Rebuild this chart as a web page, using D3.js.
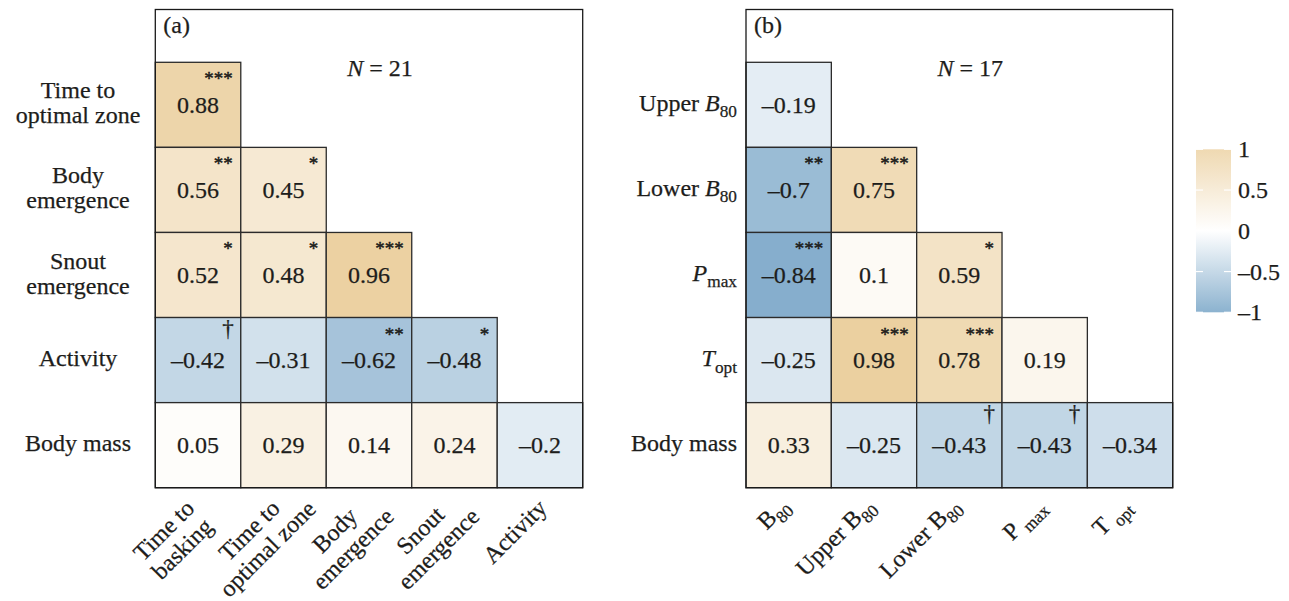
<!DOCTYPE html>
<html>
<head>
<meta charset="utf-8">
<script src="https://cdn.jsdelivr.net/npm/d3@7"></script>
<style>
  body { margin: 0; background: #fff; }
  svg text { font-family: "Liberation Serif", "Times New Roman", serif; fill: #1d1d1b;
             stroke: #1d1d1b; stroke-width: 0.25px; white-space: pre; }
</style>
</head>
<body>
<svg id="chart" width="1289" height="601"></svg>
<script>
// ---- Panel (a): behavioural traits, N = 21 ----
const rowsA = ["Time to\noptimal zone", "Body\nemergence", "Snout\nemergence", "Activity", "Body mass"];
const colsA = ["Time to\nbasking", "Time to\noptimal zone", "Body\nemergence", "Snout\nemergence", "Activity"];
const valuesA = [
  [0.88],
  [0.56, 0.45],
  [0.52, 0.48, 0.96],
  [-0.42, -0.31, -0.62, -0.48],
  [0.05, 0.29, 0.14, 0.24, -0.2]
];
const signifA = [
  ["***"],
  ["**", "*"],
  ["*", "*", "***"],
  ["\u2020", "", "**", "*"],
  ["", "", "", "", ""]
];

// ---- Panel (b): thermal performance traits, N = 17 ----
// *x* = italic, _{x} = subscript
const rowsB = ["Upper *B*_{80}", "Lower *B*_{80}", "*P*_{max}", "*T*_{opt}", "Body mass"];
const colsB = ["B_{80}", "Upper B_{80}", "Lower B_{80}", "P _{max}", "T _{opt}"];
const valuesB = [
  [-0.19],
  [-0.7, 0.75],
  [-0.84, 0.1, 0.59],
  [-0.25, 0.98, 0.78, 0.19],
  [0.33, -0.25, -0.43, -0.43, -0.34]
];
const signifB = [
  [""],
  ["**", "***"],
  ["***", "", "*"],
  ["", "***", "***", ""],
  ["", "", "\u2020", "\u2020", ""]
];

const legendTicks = [-1, -0.5, 0, 0.5, 1];

const FS = 24;
const svg = d3.select("#chart");
const color = d3.scaleLinear().domain([-1, 0, 1]).range(["#6f9fc3", "#ffffff", "#ebcf9e"]);
const fmt = v => (v < 0 ? "\u2013" : "") + String(Math.abs(v));

const frameTop = 9.5, gridTop = 62.3, gridBottom = 487.7;

// write a label with italic / subscript runs into a <text>
function addRich(textSel, str, fs) {
  const parts = str.split(/(\*[^*]+\*|_\{[^}]+\})/).filter(s => s.length);
  let shift = 0;
  parts.forEach(p => {
    const t = textSel.append("tspan");
    if (p.startsWith("_{")) {
      const d = fs * 0.27;
      t.text(p.slice(2, -1)).attr("font-size", fs * 0.72).attr("dy", d);
      shift = d;
    } else {
      if (p.startsWith("*")) t.text(p.slice(1, -1)).attr("font-style", "italic");
      else t.text(p);
      if (shift) { t.attr("dy", -shift); shift = 0; }
    }
  });
}

function drawPanel(cfg) {
  const g = svg.append("g");
  const x = d3.scaleBand().domain(cfg.cols).range([cfg.left, cfg.right]);
  const y = d3.scaleBand().domain(cfg.rows).range([gridTop, gridBottom]);

  const cells = [];
  cfg.values.forEach((row, i) => row.forEach((v, j) =>
    cells.push({ r: cfg.rows[i], c: cfg.cols[j], v, s: cfg.signif[i][j] })));

  const cg = g.selectAll("g.cell").data(cells).join("g").attr("class", "cell")
    .attr("transform", d => `translate(${x(d.c)},${y(d.r)})`);

  cg.append("rect")
    .attr("width", x.bandwidth()).attr("height", y.bandwidth())
    .attr("fill", d => color(d.v))
    .attr("stroke", "#2b2b2b").attr("stroke-width", 1.3);

  cg.append("text")
    .attr("x", x.bandwidth() / 2).attr("y", y.bandwidth() / 2)
    .attr("dy", "0.32em").attr("text-anchor", "middle")
    .attr("font-size", FS)
    .text(d => fmt(d.v));

  cg.filter(d => d.s === "\u2020").append("text")
    .attr("x", x.bandwidth() - 7).attr("y", 18)
    .attr("text-anchor", "end").attr("font-size", 23)
    .text(d => d.s);

  cg.filter(d => d.s && d.s !== "\u2020").append("text")
    .attr("x", x.bandwidth() - 8).attr("y", 23)
    .attr("text-anchor", "end").attr("font-size", 19)
    .style("stroke-width", "0.45px")
    .text(d => d.s);

  // panel frame
  g.append("rect")
    .attr("x", cfg.left).attr("y", frameTop)
    .attr("width", cfg.right - cfg.left).attr("height", gridBottom - frameTop)
    .attr("fill", "none").attr("stroke", "#1a1a1a").attr("stroke-width", 1.3);

  // panel tag and sample size
  g.append("text").attr("x", cfg.left + 8).attr("y", 33).attr("font-size", FS).text(cfg.tag);
  const n = g.append("text").attr("x", (cfg.left + cfg.right) / 2 + 11).attr("y", 76)
    .attr("text-anchor", "middle").attr("font-size", FS);
  n.append("tspan").attr("font-style", "italic").text("N");
  n.append("tspan").text(" = " + cfg.n);

  // y axis
  const ya = g.append("g").attr("transform", `translate(${cfg.left},0)`)
    .call(d3.axisLeft(y).tickSize(0).tickFormat(""));
  ya.select(".domain").remove();
  ya.selectAll(".tick text").remove();
  ya.selectAll(".tick").each(function (d) {
    const t = d3.select(this).append("text").attr("font-size", FS);
    if (cfg.rich) {
      t.attr("x", -9).attr("y", 6).attr("text-anchor", "end");
      addRich(t, d, FS);
    } else {
      const lines = d.split("\n");
      t.attr("text-anchor", "middle");
      lines.forEach((ln, i) => t.append("tspan")
        .attr("x", -(cfg.left - 78)).attr("y", 6 + (i - (lines.length - 1) / 2) * 25).text(ln));
    }
  });

  // x axis
  const xa = g.append("g").attr("transform", `translate(0,${gridBottom})`)
    .call(d3.axisBottom(x).tickSize(0).tickFormat(""));
  xa.select(".domain").remove();
  xa.selectAll(".tick text").remove();
  xa.selectAll(".tick").each(function (d) {
    if (cfg.rich) {
      const t = d3.select(this).append("g").attr("transform", "translate(-9,9) rotate(-45)")
        .append("text").attr("text-anchor", "end").attr("y", 15).attr("font-size", FS);
      addRich(t, d, FS);
    } else {
      const lines = d.split("\n");
      const gy = lines.length === 1 ? 46 : 54;
      const t = d3.select(this).append("g").attr("transform", `translate(-23,${gy}) rotate(-45)`)
        .append("text").attr("text-anchor", "middle").attr("font-size", FS);
      lines.forEach((ln, i) => t.append("tspan")
        .attr("x", 0).attr("y", 5 + (i - (lines.length - 1) / 2) * 26).text(ln));
    }
  });
}

drawPanel({ rows: rowsA, cols: colsA, values: valuesA, signif: signifA,
  left: 155.3, right: 582.7, tag: "(a)", n: 21, rich: false });
drawPanel({ rows: rowsB, cols: colsB, values: valuesB, signif: signifB,
  left: 746, right: 1172.7, tag: "(b)", n: 17, rich: true });

// ---- colour bar ----
const ly = d3.scaleLinear().domain([-1, 1]).range([312.3, 149.3]);
const grad = svg.append("defs").append("linearGradient").attr("id", "corrGrad")
  .attr("x1", 0).attr("y1", 1).attr("x2", 0).attr("y2", 0);
d3.range(0, 1.0001, 0.05).forEach(t => grad.append("stop")
  .attr("offset", t).attr("stop-color", color(-1 + 2 * t)).attr("stop-opacity", 0.8));

const lg = svg.append("g");
const barX = 1196, barW = 35;
lg.append("rect").attr("x", barX).attr("y", ly(1)).attr("width", barW)
  .attr("height", ly(-1) - ly(1)).attr("fill", "url(#corrGrad)");
legendTicks.forEach(v => {
  lg.append("line").attr("x1", barX).attr("x2", barX + 7).attr("y1", ly(v)).attr("y2", ly(v))
    .attr("stroke", "#fff").attr("stroke-width", 1.2);
  lg.append("line").attr("x1", barX + barW - 7).attr("x2", barX + barW).attr("y1", ly(v)).attr("y2", ly(v))
    .attr("stroke", "#fff").attr("stroke-width", 1.2);
});
const la = lg.append("g").attr("transform", `translate(${barX + barW},0)`)
  .call(d3.axisRight(ly).tickValues(legendTicks).tickSize(0).tickPadding(7).tickFormat(fmt));
la.attr("font-size", FS);
la.select(".domain").remove();
</script>
</body>
</html>
